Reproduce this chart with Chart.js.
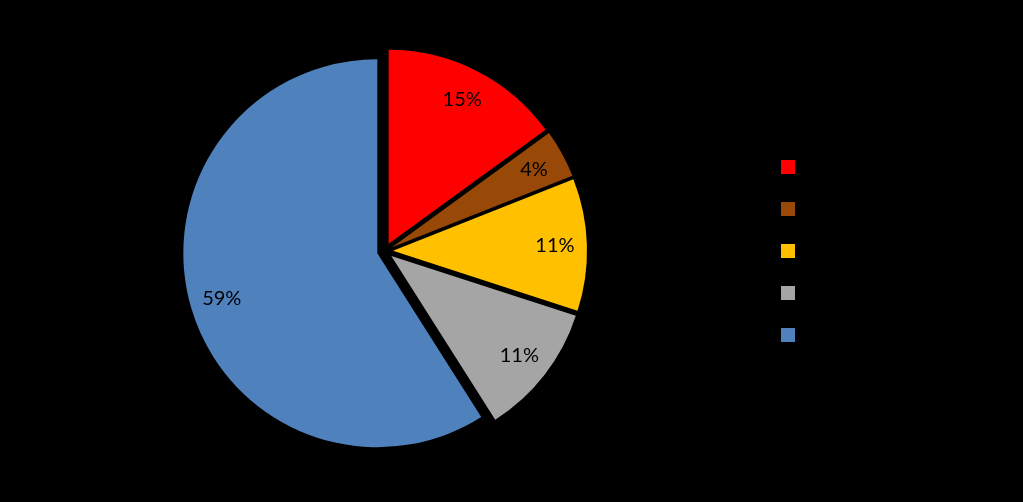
<!DOCTYPE html>
<html>
<head>
<meta charset="utf-8">
<script src="https://cdn.jsdelivr.net/npm/chart.js@4.4.0/dist/chart.umd.min.js"></script>
<style>
  html, body { margin: 0; padding: 0; background: #000; }
  #wrap { width: 1023px; height: 502px; position: relative; background: #000; }
</style>
</head>
<body>
<div id="wrap"><canvas id="pieChart"></canvas></div>
<script>
// data
const categories = ["Category 1", "Category 2", "Category 3", "Category 4", "Category 5"];
const shares = [15, 4, 11, 11, 59];
const sliceColors = ["#FF0000", "#984807", "#FFC000", "#A5A5A5", "#4F81BD"];

// styling
const EXPLODE = 8;          // px each slice is pulled out
const PIE_RADIUS = 194;
const LABEL_FONT = "20px Lato";
const LEGEND_FONT = { family: "'Open Sans'", size: 14 };
const LEGEND_PAD = 28;
const LEGEND_LEFT = 763;    // target start of legend box (tuned by eye)

// work out right padding so the legend starts where it should
const probe = document.createElement("canvas").getContext("2d");
probe.font = LEGEND_FONT.size + "px " + LEGEND_FONT.family;
const textW = Math.max(...categories.map(c => probe.measureText(c).width));
const legendW = LEGEND_PAD + 14 + LEGEND_FONT.size / 2 + textW;
const padRight = Math.max(0, 1023 - LEGEND_LEFT - legendW);

const explodePlugin = {
    id: "explode",
    beforeDatasetDraw(chart, args) {
        const ctx = chart.ctx;
        args.meta.data.forEach(arc => {
            const mid = (arc.startAngle + arc.endAngle) / 2;
            ctx.save();
            ctx.translate(Math.cos(mid) * EXPLODE, Math.sin(mid) * EXPLODE);
            arc.draw(ctx);
            ctx.restore();
        });
        return false;
    },
};

const pctPlugin = {
    id: "pctLabels",
    afterDatasetsDraw(chart) {
        const ctx = chart.ctx;
        const meta = chart.getDatasetMeta(0);
        const total = shares.reduce((a, b) => a + b, 0);
        ctx.save();
        ctx.font = LABEL_FONT;
        ctx.fillStyle = "#000";
        ctx.textAlign = "center";
        ctx.textBaseline = "middle";
        meta.data.forEach((arc, i) => {
            const mid = (arc.startAngle + arc.endAngle) / 2;
            const r = EXPLODE + arc.outerRadius * 0.835;
            const pct = Math.round((shares[i] / total) * 100) + "%";
            ctx.fillText(pct, arc.x + Math.cos(mid) * r, arc.y + Math.sin(mid) * r);
        });
        ctx.restore();
    },
};

new Chart(document.getElementById("pieChart"), {
    type: "pie",
    data: {
        labels: categories,
        datasets: [
            {
                data: shares,
                backgroundColor: sliceColors,
                borderWidth: 0,
                radius: PIE_RADIUS,
            },
        ],
    },
    options: {
        responsive: true,
        maintainAspectRatio: false,
        animation: false,
        layout: {
            padding: { left: 17, right: padRight, top: 40, bottom: 40 },
        },
        plugins: {
            tooltip: { enabled: false },
            legend: {
                position: "right",
                labels: {
                    boxWidth: 14,
                    boxHeight: 14,
                    padding: LEGEND_PAD,
                    color: "#000",
                    font: LEGEND_FONT,
                },
            },
        },
    },
    plugins: [explodePlugin, pctPlugin],
});
</script>
</body>
</html>
